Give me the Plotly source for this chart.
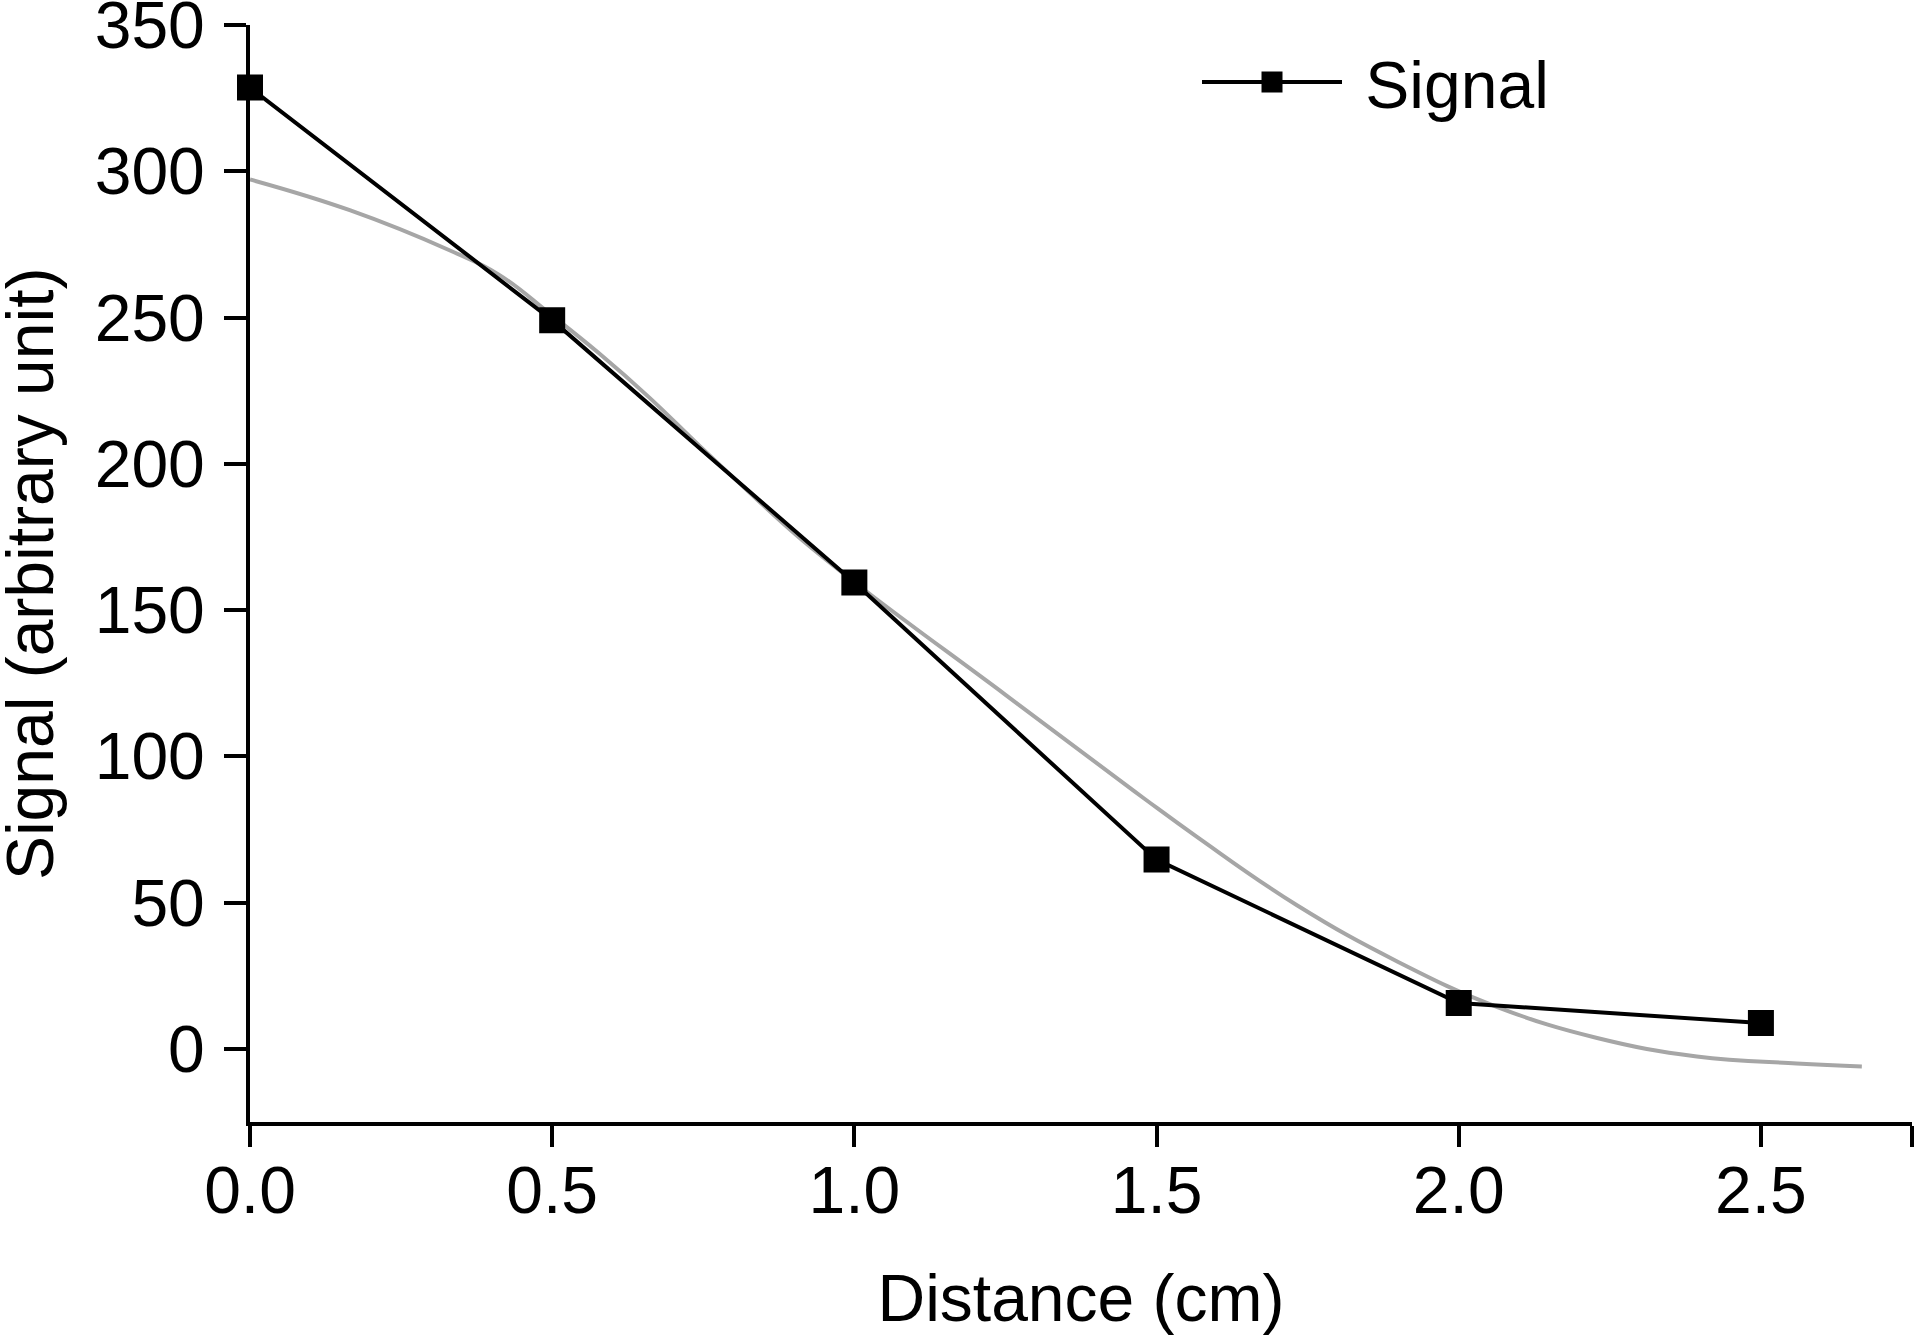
import plotly.graph_objects as go

# Measured signal
distance_cm = [0.0, 0.5, 1.0, 1.5, 2.0, 2.5]
signal = [328.6, 249.1, 159.4, 64.7, 15.7, 8.8]

# Fitted curve (gray)
fit_x = [0.0, 0.165, 0.33, 0.413, 0.495, 0.578, 0.66, 0.743, 0.826, 0.908, 1.018,
         1.249, 1.48, 1.568, 1.733, 1.899, 2.064, 2.229, 2.394, 2.559, 2.667]
fit_y = [297.2, 286.7, 273.0, 264.5, 251.5, 237.7, 222.8, 206.3, 190.3, 174.9, 156.7,
         121.2, 85.5, 72.3, 49.0, 29.8, 14.3, 3.7, -2.6, -5.0, -6.05]

x_tickvals = [0.0, 0.5, 1.0, 1.5, 2.0, 2.5, 2.75]
x_ticktext = ["0.0", "0.5", "1.0", "1.5", "2.0", "2.5", ""]
y_tickvals = [0, 50, 100, 150, 200, 250, 300, 350]
y_ticktext = ["0", "50", "100", "150", "200", "250", "300", "350"]

x_title = "Distance (cm)"
y_title = "Signal (arbitrary unit)"

FONT = "Liberation Sans, Arial, sans-serif"

fig = go.Figure()
fig.add_trace(go.Scatter(
    x=fit_x, y=fit_y, mode="lines",
    line=dict(color="#a6a6a6", width=4, shape="spline", smoothing=1.2),
    showlegend=False, cliponaxis=False, hoverinfo="skip"))
fig.add_trace(go.Scatter(
    x=distance_cm, y=signal, mode="lines+markers", name="\u00a0Signal",
    line=dict(color="black", width=4),
    marker=dict(symbol="square", size=21, color="black", line=dict(color="black", width=5)),
    cliponaxis=False))

fig.update_layout(
    width=1916, height=1336,
    margin=dict(l=250, r=4, t=25, b=214),
    paper_bgcolor="white", plot_bgcolor="white",
    font=dict(family=FONT, size=66, color="black"),
    showlegend=True,
    legend=dict(x=0.5698, y=0.948, xanchor="left", yanchor="middle",
                bgcolor="rgba(0,0,0,0)", font=dict(size=66, family=FONT),
                itemwidth=140, borderwidth=0),
    xaxis=dict(range=[0, 2.75], tickvals=x_tickvals, ticktext=x_ticktext,
               showgrid=False, zeroline=False, showline=True, linecolor="black", linewidth=4,
               ticks="outside", ticklen=21, tickwidth=4, tickcolor="black",
               tickfont=dict(size=66, family=FONT), ticklabelstandoff=-13,
               ticklabeloverflow="allow",
               title=dict(text=x_title, font=dict(size=66, family=FONT), standoff=50),
               automargin=False),
    yaxis=dict(range=[-25, 350], tickvals=y_tickvals, ticktext=y_ticktext,
               showgrid=False, zeroline=False, showline=True, linecolor="black", linewidth=4,
               ticks="outside", ticklen=22, tickwidth=4, tickcolor="black",
               tickfont=dict(size=66, family=FONT), ticklabelstandoff=6,
               ticklabeloverflow="allow",
               automargin=False),
    annotations=[dict(text=y_title, textangle=-90, xref="paper", yref="paper",
                      x=-0.1326, y=0.5, xanchor="center", yanchor="middle",
                      showarrow=False, font=dict(size=66, family=FONT, color="black"))],
)

fig.write_html("out.html", config={"displayModeBar": False},
               post_script="document.body.style.margin='0';")
